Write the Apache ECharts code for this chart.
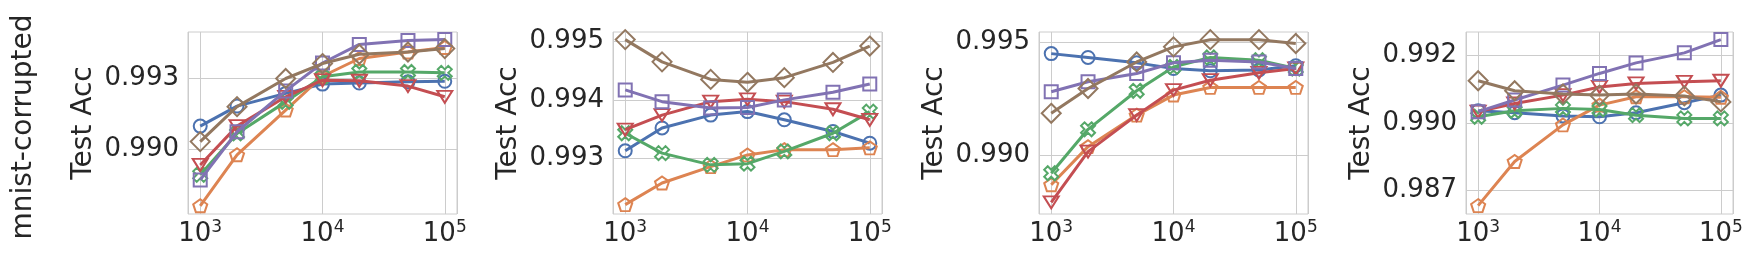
<!DOCTYPE html>
<html><head><meta charset="utf-8">
<script src="https://cdn.jsdelivr.net/npm/echarts@6/dist/echarts.min.js"></script>
<style>html,body{margin:0;padding:0;background:#fff}#c{width:1751px;height:258px}</style>
</head><body><div id="c"></div>
<script>
// ---------------- data ----------------
const sampleSizes = [1000, 2000, 5000, 10000, 20000, 50000, 100000];
const seriesNames = ['Method 1', 'Method 2', 'Method 3', 'Method 4', 'Method 5', 'Method 6'];
const rowLabel = 'mnist-corrupted';
const yAxisTitle = 'Test Acc';

const panel1 = [
  [0.99131, 0.99202, 0.99247, 0.99280, 0.99284, 0.99288, 0.99290],
  [0.98848, 0.99029, 0.99188, 0.99308, 0.99371, 0.99394, 0.99410],
  [0.98958, 0.99105, 0.99217, 0.99306, 0.99323, 0.99323, 0.99320],
  [0.98993, 0.99131, 0.99235, 0.99294, 0.99292, 0.99273, 0.99235],
  [0.98940, 0.99111, 0.99256, 0.99355, 0.99421, 0.99435, 0.99438],
  [0.99076, 0.99200, 0.99300, 0.99353, 0.99386, 0.99394, 0.99406]
];
const panel2 = [
  [0.99313, 0.99352, 0.99374, 0.99380, 0.99366, 0.99346, 0.99326],
  [0.99221, 0.99258, 0.99286, 0.99306, 0.99315, 0.99315, 0.99318],
  [0.99343, 0.99309, 0.99289, 0.99291, 0.99312, 0.99343, 0.99380],
  [0.99349, 0.99374, 0.99397, 0.99401, 0.99397, 0.99384, 0.99366],
  [0.99417, 0.99397, 0.99386, 0.99387, 0.99400, 0.99413, 0.99427],
  [0.99503, 0.99465, 0.99435, 0.99430, 0.99438, 0.99464, 0.99492]
];
const panel3 = [
  [0.99451, 0.99434, 0.99410, 0.99385, 0.99375, 0.99378, 0.99397],
  [0.98869, 0.99038, 0.99178, 0.99267, 0.99301, 0.99301, 0.99301],
  [0.98920, 0.99115, 0.99286, 0.99392, 0.99434, 0.99422, 0.99385],
  [0.98791, 0.99016, 0.99178, 0.99289, 0.99333, 0.99366, 0.99385],
  [0.99282, 0.99326, 0.99363, 0.99410, 0.99422, 0.99414, 0.99385],
  [0.99186, 0.99296, 0.99414, 0.99481, 0.99513, 0.99513, 0.99496]
];
const panel4 = [
  [0.98995, 0.98988, 0.98976, 0.98973, 0.98988, 0.99025, 0.99053],
  [0.98645, 0.98808, 0.98943, 0.99016, 0.99047, 0.99047, 0.99045],
  [0.98973, 0.98995, 0.99004, 0.99000, 0.98979, 0.98967, 0.98967],
  [0.98992, 0.99022, 0.99053, 0.99083, 0.99096, 0.99102, 0.99106],
  [0.98992, 0.99035, 0.99090, 0.99133, 0.99172, 0.99209, 0.99258],
  [0.99106, 0.99069, 0.99057, 0.99053, 0.99057, 0.99050, 0.99028]
];
const panels = [panel1, panel2, panel3, panel4];

const yRanges = [
  [0.98819, 0.99465],
  [0.99205, 0.99516],
  [0.98739, 0.99547],
  [0.98614, 0.99286]
];
const yTickValues = [
  [0.9905, 0.9930],
  [0.993, 0.994, 0.995],
  [0.990, 0.995],
  [0.9870, 0.9895, 0.9920]
];
const yTickLabels = [
  ['0.990', '0.993'],
  ['0.993', '0.994', '0.995'],
  ['0.990', '0.995'],
  ['0.987', '0.990', '0.992']
];
const xRange = [Math.pow(10, 2.9), Math.pow(10, 5.1)];

// ---------------- styles / layout ----------------
const FONT = 'DejaVu Sans';
const TXT = '#262626';
const GRIDC = '#cccccc';
const colors = ['#4C72B0', '#DD8452', '#55A868', '#C44E52', '#8172B3', '#937860'];
const symbols = [
  'circle',
  'path://M0,-1 L0.951,-0.309 L0.588,0.809 L-0.588,0.809 L-0.951,-0.309 Z',
  'path://M1,-2 L2,-1 L1,0 L2,1 L1,2 L0,1 L-1,2 L-2,1 L-1,0 L-2,-1 L-1,-2 L0,-1 Z',
  'path://M-1,-1 L1,-1 L0,1 Z',
  'rect',
  'diamond'
];
const symbolSizes = [13, [14, 13], 14, [15, 12], 13, 19];
const gridLefts = [188, 613, 1039, 1466];
const gridWidths = [269, 269, 269, 267];
const gridTop = 32, gridHeight = 182;

const grids = [], xAxes = [], yAxes = [], series = [];
panels.forEach((panel, p) => {
  grids.push({left: gridLefts[p], width: gridWidths[p], top: gridTop, height: gridHeight,
    show: true, borderColor: GRIDC, borderWidth: 1, backgroundColor: 'transparent'});
  xAxes.push({
    type: 'log', logBase: 10, gridIndex: p, min: xRange[0], max: xRange[1],
    axisLine: {show: false}, axisTick: {show: false},
    splitLine: {show: true, lineStyle: {color: GRIDC, width: 1}},
    axisLabel: {
      showMinLabel: false, showMaxLabel: false, margin: 5,
      formatter: v => '{b|10}{s|' + Math.round(Math.log10(v)) + '}',
      rich: {
        b: {fontFamily: FONT, fontSize: 26, color: TXT, lineHeight: 30},
        s: {fontFamily: FONT, fontSize: 17, color: TXT, lineHeight: 17, verticalAlign: 'top'}
      }
    }
  });
  const tv = yTickValues[p], tl = yTickLabels[p];
  yAxes.push({
    type: 'value', gridIndex: p, min: yRanges[p][0], max: yRanges[p][1],
    name: yAxisTitle, nameLocation: 'middle', nameGap: 90, nameRotate: 90,
    nameTextStyle: {fontFamily: FONT, fontSize: 28, color: TXT},
    axisLine: {show: false},
    axisTick: {show: false, customValues: tv},
    splitLine: {show: true, lineStyle: {color: GRIDC, width: 1}},
    axisLabel: {
      customValues: tv, margin: 9, fontFamily: FONT, fontSize: 26, color: TXT,
      formatter: v => { const i = tv.findIndex(t => Math.abs(t - v) < 1e-9); return i >= 0 ? tl[i] : ''; }
    }
  });
  panel.forEach((vals, s) => {
    series.push({
      type: 'line', name: seriesNames[s], xAxisIndex: p, yAxisIndex: p,
      data: sampleSizes.map((x, i) => [x, vals[i]]),
      symbol: symbols[s], symbolSize: symbolSizes[s], showAllSymbol: true,
      lineStyle: {color: colors[s], width: 3},
      itemStyle: {color: 'rgba(255,255,255,0)', borderColor: colors[s], borderWidth: 2},
      emphasis: {disabled: true}, silent: true, z: 2 + s
    });
  });
});

const chart = echarts.init(document.getElementById('c'), null, {renderer: 'canvas'});
chart.setOption({
  animation: false,
  backgroundColor: '#ffffff',
  grid: grids, xAxis: xAxes, yAxis: yAxes, series: series,
  graphic: [{
    type: 'text', x: 24, y: 127, rotation: Math.PI / 2,
    style: {text: rowLabel, fontFamily: FONT, fontSize: 28, fill: TXT, align: 'center', verticalAlign: 'middle'}
  }]
});
</script></body></html>
